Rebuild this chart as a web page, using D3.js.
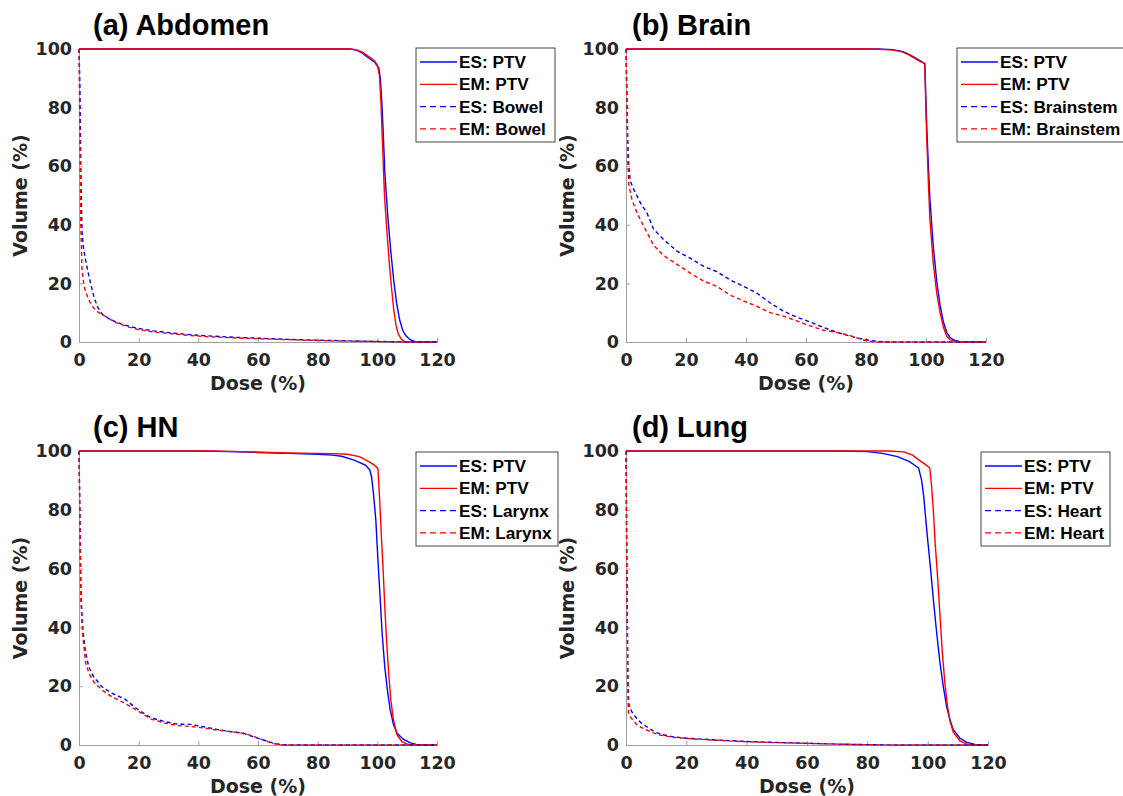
<!DOCTYPE html>
<html lang="en">
<head>
<meta charset="UTF-8">
<title>DVH comparison</title>
<script src="https://cdn.jsdelivr.net/npm/d3@7"></script>
<style>
  body { margin: 0; background: #fff; }
  .tick text { font-family: "DejaVu Sans"; font-weight: bold; font-size: 17.5px; fill: #262626; }
  .axis path, .axis line { stroke: #a0a0a0; stroke-width: 1; }
  .lbl { font-family: "DejaVu Sans"; font-weight: bold; font-size: 19px; fill: #262626; }
  .ttl { font-family: "Liberation Sans"; font-weight: bold; font-size: 29px; fill: #000; }
  .leg { font-family: "Liberation Sans"; font-weight: bold; font-size: 17.2px; fill: #000; }
</style>
</head>
<body>
<script>
// dose (%) , volume (%) pairs
const doseTicks = [0, 20, 40, 60, 80, 100, 120];
const volTicks = [0, 20, 40, 60, 80, 100];

const abdomenEsPtv = [[0,100],[91,100],[93,99.6],[95,98.6],[97,97],[99,95.6],[100.5,93.5],[101,90],[101.5,82],[102,71],[102.5,58],[103.5,43],[104.5,31],[105.5,21],[106.5,13],[107.5,7.5],[108.5,4],[109.5,2.2],[111,0.8],[112.5,0.2],[114,0],[120,0]];
const abdomenEmPtv = [[0,100],[91,100],[93,99.7],[95,98.9],[97,97.5],[99,96],[100,94.5],[100.7,91],[101.2,82],[101.8,66],[102.4,50],[103.2,38],[104,27],[104.8,18],[105.5,11],[106.3,5.5],[107,2.8],[108,1],[109,0.2],[110,0],[120,0]];
const abdomenEsOar = [[0,100],[0.3,88],[0.6,60],[1,38],[1.5,32],[2.2,28],[3,24],[4,19.5],[5,15.5],[6,12.5],[7,10.5],[8,9.3],[10,8],[12,7],[14,6.2],[17,5.3],[20,4.6],[25,3.8],[30,3.2],[35,2.7],[40,2.3],[45,2],[50,1.7],[55,1.5],[60,1.3],[65,1.1],[70,0.9],[75,0.75],[80,0.6],[85,0.5],[90,0.4],[95,0.3],[100,0.2],[105,0.1],[110,0],[120,0]];
const abdomenEmOar = [[0,100],[0.3,70],[0.6,40],[1,25],[1.5,20.5],[2,18],[3,15],[4,13],[5,11.5],[6,10.5],[7,9.8],[8,9.3],[10,8],[12,6.8],[14,6],[17,5],[20,4.2],[25,3.4],[30,2.9],[35,2.4],[40,2],[45,1.7],[50,1.5],[55,1.3],[60,1.1],[65,0.95],[70,0.8],[75,0.65],[80,0.5],[85,0.4],[90,0.3],[95,0.25],[100,0.15],[105,0.05],[108,0],[120,0]];

const brainEsPtv = [[0,100],[84,100],[89,99.8],[92,99.2],[94,98.3],[96,97.2],[98,96],[99.6,95],[99.9,85],[100.3,72],[100.8,60],[101.3,49],[102.4,33],[103.6,20.5],[104.7,12.5],[105.8,6.8],[106.9,3.3],[108,1.5],[109.5,0.6],[111,0.2],[113,0],[120,0]];
const brainEmPtv = [[0,100],[82,100],[86,99.8],[89,99.6],[92,99],[94,98.2],[96,97],[98,95.8],[99.6,95],[99.9,82],[100.2,71],[100.8,54],[101.3,42],[102.4,27],[103.6,16.5],[104.7,10],[105.8,5],[106.9,2],[108,0.8],[109.5,0.3],[110.5,0],[120,0]];
const brainEsOar = [[0,100],[0.3,85],[0.6,68],[0.9,61],[1.4,55],[2.6,52],[4.8,47.5],[7,44],[9.2,38.5],[12.5,35],[17,31],[21.4,28.6],[25.9,25.8],[30.3,24],[34.7,21.2],[39.2,19],[43.6,16.7],[48.1,13.3],[52.5,10.5],[56.9,8.5],[61.4,6.8],[65.8,5],[70.3,3.3],[74.7,2],[79.1,0.9],[83.6,0.2],[88,0],[120,0]];
const brainEmOar = [[0,100],[0.3,80],[0.6,62],[0.9,54],[2,48.5],[3.7,44],[5.9,39.5],[9.2,33],[12.5,29.5],[17,26.5],[21.4,23.5],[25.9,20.8],[30.3,19],[34.7,16],[39.2,14],[43.6,12.2],[48.1,10],[52.5,8.8],[56.9,7.2],[61.4,5.5],[65.8,4],[70.3,3.3],[74.7,2.2],[79.1,0.7],[82,0.1],[84,0],[120,0]];

const hnEsPtv = [[0,100],[40,100],[50,99.8],[60,99.5],[70,99.2],[80,98.9],[85,98.6],[88,98.2],[92,97],[96,95.2],[97.5,93.5],[98.1,91],[98.7,85.5],[99.5,76.5],[100.2,63],[101,49],[101.6,38],[102.5,26.5],[103.4,18.5],[104.3,12],[105.4,7],[106.6,4],[108.8,1.9],[110.9,0.8],[113,0.2],[116,0.05],[119,0]];
const hnEmPtv = [[0,100],[45,100],[55,99.8],[70,99.3],[85,99.1],[90,98.9],[94,98.1],[97,96.5],[99,95.2],[100.2,94],[100.8,83],[101.3,72],[101.9,60.5],[102.5,47],[103.1,35.5],[103.8,24.5],[104.5,15.5],[105.4,8.5],[106.6,3.5],[108.2,1.1],[110,0.3],[112,0],[120,0]];
const hnEsOar = [[0,100],[0.3,80],[0.6,55],[1,44],[1.3,39],[2.2,31.5],[3.3,26.5],[4.9,23.2],[7.7,19.8],[11,17.6],[15.4,15.6],[19.8,12],[24.2,9.2],[28.6,8],[33,7.1],[37.4,7],[41.8,6.2],[46.2,5.3],[50.5,4.6],[55,4],[58.2,2.9],[61.5,1.8],[64.8,0.7],[68,0.1],[70,0],[120,0]];
const hnEmOar = [[0,100],[0.3,75],[0.6,50],[1,42],[1.3,37],[2.2,28],[3.3,24.5],[4.9,21.5],[7.7,18.7],[11,16.4],[15.4,14.2],[19.8,11.5],[24.2,8.8],[28.6,7.5],[33,6.6],[37.4,6.3],[41.8,5.8],[46.2,5.1],[50.5,4.6],[55,4],[58.2,3.1],[61.5,1.8],[64.8,0.6],[67,0.1],[69,0],[120,0]];

const lungEsPtv = [[0,100],[70,100],[80,99.8],[85,99.2],[90,98.1],[94,96.4],[97,94.2],[98,90],[98.7,84.5],[99.8,72],[100.9,60.5],[101.9,49.3],[103,38],[104.1,27.8],[105.2,19.8],[106.3,13],[107.4,8.5],[108.5,5.2],[110.7,2.3],[113,0.9],[115.7,0.2],[118,0],[120,0]];
const lungEmPtv = [[0,100],[87,100],[92,99.7],[95,98.6],[97,97],[99,95.6],[100.7,94.2],[101.3,88],[101.8,81],[102.5,68.5],[103.3,57],[104.1,43.7],[104.9,31],[105.7,21],[106.6,13],[107.5,7.8],[108.5,4.4],[110.7,1.4],[113,0.3],[116,0],[120,0]];
const lungEsOar = [[0,100],[0.3,60],[0.6,25],[0.9,14],[1.9,11.3],[3.5,9.1],[5,7.5],[6.9,6.2],[9,4.8],[11.3,3.7],[15,2.9],[20,2.3],[30,1.7],[40,1.2],[50,0.85],[60,0.6],[70,0.3],[80,0.12],[90,0],[120,0]];
const lungEmOar = [[0,100],[0.3,55],[0.6,20],[0.8,11],[1.5,9.5],[3.5,7],[5,6],[6.9,5.1],[9,4.1],[11.3,3.4],[15,2.7],[20,2.2],[30,1.6],[40,1.1],[50,0.8],[60,0.55],[70,0.3],[80,0.1],[90,0],[120,0]];

const titles = ["(a) Abdomen", "(b) Brain", "(c) HN", "(d) Lung"];
const organs = ["Bowel", "Brainstem", "Larynx", "Heart"];

// plot boxes [left, right, top, bottom] and legend boxes [x, y, w]
const boxes = [[79, 437, 49, 342], [626, 986, 49, 342], [79, 437, 451, 745], [626, 988, 451, 745]];
const legends = [[416, 48, 139], [957, 48, 172], [416, 452, 142], [981, 452, 129]];

const panelData = [
  [abdomenEsPtv, abdomenEmPtv, abdomenEsOar, abdomenEmOar],
  [brainEsPtv, brainEmPtv, brainEsOar, brainEmOar],
  [hnEsPtv, hnEmPtv, hnEsOar, hnEmOar],
  [lungEsPtv, lungEmPtv, lungEsOar, lungEmOar]
];

const colors = ["#0000ff", "#ff0000", "#0000ff", "#ff0000"];
const dashes = [null, null, "4,3", "4,3"];

const svg = d3.select("body").append("svg")
  .attr("width", 1123).attr("height", 796);

panelData.forEach(function(series, i) {
  const b = boxes[i];
  const x = d3.scaleLinear().domain([0, 120]).range([b[0], b[1]]);
  const y = d3.scaleLinear().domain([0, 100]).range([b[3], b[2]]);
  const g = svg.append("g");

  g.append("g").attr("class", "axis")
    .attr("transform", "translate(0," + b[3] + ")")
    .call(d3.axisBottom(x).tickValues(doseTicks).tickSizeInner(-4).tickSizeOuter(0).tickPadding(12));
  g.append("g").attr("class", "axis")
    .attr("transform", "translate(" + b[0] + ",0)")
    .call(d3.axisLeft(y).tickValues(volTicks).tickSizeInner(-4).tickSizeOuter(0).tickPadding(7));

  const line = d3.line().x(d => x(d[0])).y(d => y(d[1]));
  series.forEach(function(s, k) {
    g.append("path").datum(s)
      .attr("d", line)
      .attr("fill", "none")
      .attr("stroke", colors[k])
      .attr("stroke-width", 1.4)
      .attr("stroke-dasharray", dashes[k]);
  });

  g.append("text").attr("class", "ttl")
    .attr("x", b[0] + (i % 2 ? 6 : 14)).attr("y", b[2] - 14)
    .text(titles[i]);
  g.append("text").attr("class", "lbl")
    .attr("x", (b[0] + b[1]) / 2).attr("y", b[3] + 48)
    .attr("text-anchor", "middle").text("Dose (%)");
  g.append("text").attr("class", "lbl")
    .attr("transform", "translate(" + (b[0] - 59) + "," + ((b[2] + b[3]) / 2) + ") rotate(-90)")
    .attr("text-anchor", "middle").attr("dy", "0.35em").text("Volume (%)");

  // legend
  const lg = legends[i];
  const names = ["ES: PTV", "EM: PTV", "ES: " + organs[i], "EM: " + organs[i]];
  const lgG = g.append("g").attr("transform", "translate(" + lg[0] + "," + lg[1] + ")");
  lgG.append("rect").attr("width", lg[2]).attr("height", 94)
    .attr("fill", "#fff").attr("stroke", "#444").attr("stroke-width", 1);
  names.forEach(function(n, k) {
    const yy = 14 + k * 22.3;
    lgG.append("line").attr("x1", 4).attr("x2", 41).attr("y1", yy).attr("y2", yy)
      .attr("stroke", colors[k]).attr("stroke-width", 1.3)
      .attr("stroke-dasharray", dashes[k] ? "6,4" : null);
    lgG.append("text").attr("class", "leg").attr("x", 43).attr("y", yy)
      .attr("dy", "0.36em").text(n);
  });
});
</script>
</body>
</html>
